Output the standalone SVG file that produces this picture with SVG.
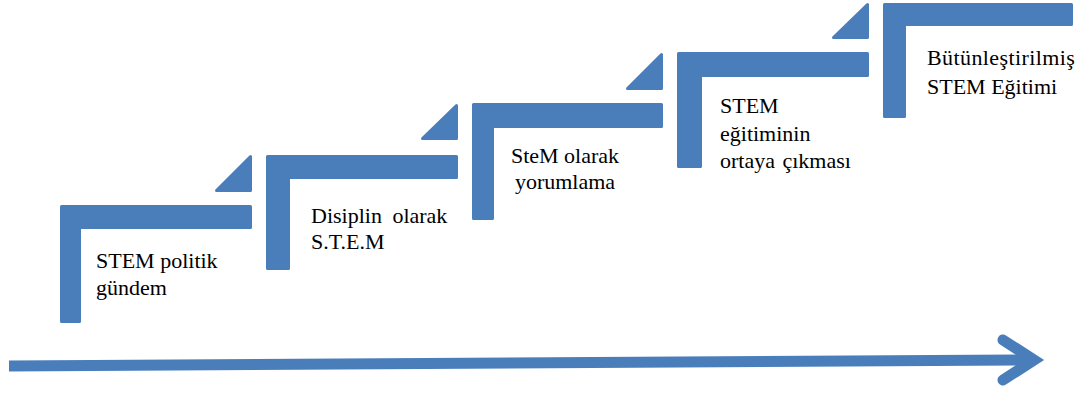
<svg xmlns="http://www.w3.org/2000/svg" width="1082" height="394" viewBox="0 0 1082 394">
<defs>
<style>
.step{fill:#4A7EBB;stroke:#4A7EBB;stroke-width:3;stroke-linejoin:round}
.lbl{font-family:'Liberation Serif','Times New Roman',serif;font-size:22px;fill:#000}
.ar{fill:none;stroke:#4A7EBB;stroke-width:11}
</style>
</defs>
<rect width="1082" height="394" fill="#fff"/>
<g id="step1">
<path class="step" d="M61.5 206.5 H250.5 V227.5 H79.5 V321.5 H61.5 Z"/>
<path class="step" d="M216.5 190.5 L250.5 156.5 V190.5 Z"/>
<text class="lbl"><tspan x="96" y="268">STEM politik</tspan><tspan x="96" y="295">gündem</tspan></text>
</g>
<g id="step2">
<path class="step" d="M267.5 156.5 H456.5 V177.5 H288.5 V268.5 H267.5 Z"/>
<path class="step" d="M422.5 138.5 L456.5 105.5 V138.5 Z"/>
<text class="lbl" word-spacing="5"><tspan x="311" y="223">Disiplin olarak</tspan><tspan x="311" y="249">S.T.E.M</tspan></text>
</g>
<g id="step3">
<path class="step" d="M473.5 104.5 H661.5 V126.5 H492.5 V218.5 H473.5 Z"/>
<path class="step" d="M627.5 88.5 L661.5 54.5 V88.5 Z"/>
<text class="lbl" text-anchor="middle"><tspan x="565" y="163">SteM olarak</tspan><tspan x="565" y="189">yorumlama</tspan></text>
</g>
<g id="step4">
<path class="step" d="M678.5 53.5 H867.5 V75.5 H700.5 V166.5 H678.5 Z"/>
<path class="step" d="M833.5 37.5 L867.5 4.5 V37.5 Z"/>
<text class="lbl"><tspan x="720" y="113">STEM</tspan><tspan x="720" y="141">eğitiminin</tspan><tspan x="720" y="168" word-spacing="2">ortaya çıkması</tspan></text>
</g>
<g id="step5">
<path class="step" d="M884.5 4.5 H1071.5 V24.5 H904.5 V116.5 H884.5 Z"/>
<text class="lbl"><tspan x="927" y="65" letter-spacing="0.4">Bütünleştirilmiş</tspan><tspan x="927" y="94">STEM Eğitimi</tspan></text>
</g>
<g id="connectors">
<path class="ar" d="M9 366 L1034 360" stroke-width="12"/>
<path class="ar" d="M1003 340 L1034 360 L1003 380" stroke-linecap="round" stroke-linejoin="miter"/>
</g>
</svg>
